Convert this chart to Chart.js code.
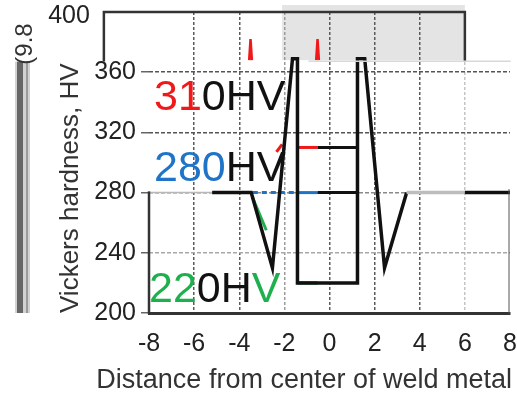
<!DOCTYPE html>
<html>
<head>
<meta charset="utf-8">
<script src="https://cdn.jsdelivr.net/npm/chart.js@4.4.0/dist/chart.umd.min.js"></script>
<style>
  html, body { margin: 0; padding: 0; background: #fff; }
  #wrap { width: 517px; height: 398px; }
</style>
</head>
<body>
<div id="wrap"><canvas id="chart"></canvas></div>
<script>
// tick labels
const xTickValues = [-8, -6, -4, -2, 0, 2, 4, 6, 8];
const yTickValues = [200, 240, 280, 320, 360, 400];

// hardness profile across the weld (black line)
const profileX = [-8, -5.2, -3.47, -2.53, -1.64, -1.42, -1.42, 1.24, 1.24, 1.56, 2.44, 3.42, 6, 8];
const profileY = [280, 280, 280, 230, 369, 369, 220, 220, 369, 369, 230, 280, 280, 280];

// reference levels (coloured part + black part)
const level310X = [-1.42, -0.53, 1.24];
const level310Y = [310, 310, 310];
const level280X = [-3.4, -1.42, -0.53, 1.24];
const level280Y = [280, 280, 280, 280];
const level220X = [-1.42, -0.53];
const level220Y = [220, 220];

// small coloured fragments
const greenSlopeX = [-3.42, -2.8];
const greenSlopeY = [277, 255];
const redSlopeX = [-2.35, -2.1];
const redSlopeY = [307, 312];
const spike1X = [-3.56, -3.5, -3.44];
const spike1Y = [368, 382, 368];
const spike2X = [-0.59, -0.53, -0.47];
const spike2Y = [368, 382, 368];

const pts = (xs, ys) => xs.map((v, i) => ({ x: v, y: ys[i] }));

const RED = '#f01818';
const BLUE = '#1f74c8';
const GREEN = '#1fb04e';
const BLACK = '#111';
const FONT = '"Liberation Sans", Arial, sans-serif';
const TOP = yTickValues[yTickValues.length - 1];

const decor = {
    id: 'decor',
    beforeDraw(chart) {
        const { ctx, scales: { x, y } } = chart;
        ctx.save();
        // shaded strip at the top
        const x0 = x.getPixelForValue(-2.1), x1 = x.getPixelForValue(6);
        const yTop = y.getPixelForValue(400) - 7, yBot = y.getPixelForValue(368);
        ctx.fillStyle = '#e4e4e4';
        ctx.fillRect(x0, yTop, x1 - x0, yBot - yTop);
        // grey bar on the far left
        const barTop = y.getPixelForValue(367), barBot = y.getPixelForValue(200);
        ctx.fillStyle = '#d2d2d2';
        ctx.fillRect(15, barTop, 15, barBot - barTop);
        ctx.fillStyle = '#666';
        ctx.fillRect(17, barTop, 6, barBot - barTop);
        ctx.fillStyle = '#9a9a9a';
        ctx.fillRect(26, barTop, 2, barBot - barTop);
        // rotated "(9.8"
        ctx.translate(32, 44);
        ctx.rotate(-Math.PI / 2);
        ctx.fillStyle = '#333';
        ctx.font = '24px ' + FONT;
        ctx.textAlign = 'center';
        ctx.textBaseline = 'alphabetic';
        ctx.fillText('(9.8', 0, 0);
        ctx.restore();
    },
    afterDatasetsDraw(chart) {
        const { ctx, scales: { x, y } } = chart;
        ctx.save();
        ctx.strokeStyle = '#333';
        ctx.lineCap = 'square';
        // shifted top frame
        const fl = x.getPixelForValue(-10), fr = x.getPixelForValue(6);
        const ft = y.getPixelForValue(400), fb = y.getPixelForValue(368);
        ctx.lineWidth = 2.5;
        ctx.beginPath();
        ctx.moveTo(fl, fb); ctx.lineTo(fl, ft); ctx.lineTo(fr, ft); ctx.lineTo(fr, fb);
        ctx.stroke();
        // light band edge
        ctx.strokeStyle = '#d8d8d8';
        ctx.lineWidth = 1.5;
        ctx.beginPath();
        ctx.moveTo(x.getPixelForValue(-0.9), fb + 1); ctx.lineTo(x.getPixelForValue(8), fb + 1);
        ctx.stroke();
        // left border (lower part) and right border
        ctx.strokeStyle = '#333';
        ctx.lineWidth = 2.5;
        ctx.beginPath();
        ctx.moveTo(x.left, y.getPixelForValue(280)); ctx.lineTo(x.left, y.bottom);
        ctx.stroke();
        ctx.lineWidth = 1;
        ctx.strokeStyle = '#555';
        ctx.beginPath();
        ctx.moveTo(x.right - 1, y.getPixelForValue(282)); ctx.lineTo(x.right - 1, y.bottom);
        ctx.stroke();

        // top tick label sits left of the shifted frame
        ctx.font = '25px ' + FONT;
        ctx.fillStyle = '#222';
        ctx.textAlign = 'right';
        ctx.textBaseline = 'middle';
        ctx.fillText(String(TOP), fl - 14, ft + 4);

        // level labels
        ctx.font = '43px ' + FONT;
        ctx.textBaseline = 'alphabetic';
        ctx.textAlign = 'left';
        const labels = [
            { vx: -7.78, vy: 334.8, parts: [['31', RED], ['0HV', BLACK]] },
            { vx: -7.78, vy: 288.0, parts: [['280', BLUE], ['HV', BLACK]] },
            { vx: -8.0, vy: 207.3, parts: [['22', GREEN], ['0H', BLACK], ['V', GREEN]] }
        ];
        labels.forEach(l => {
            let px = x.getPixelForValue(l.vx);
            const py = y.getPixelForValue(l.vy);
            l.parts.forEach(([t, c]) => {
                ctx.fillStyle = c;
                ctx.fillText(t, px, py);
                px += ctx.measureText(t).width;
            });
        });

        // x axis title (drawn here so it is not squeezed to the plot width)
        ctx.font = '27px ' + FONT;
        ctx.fillStyle = '#333';
        ctx.textAlign = 'right';
        ctx.textBaseline = 'middle';
        ctx.fillText('Distance from center of weld metal', x.right + 2, 381);
        ctx.restore();
    }
};

const line = (data, color, width, extra) => Object.assign({
    data, borderColor: color, borderWidth: width, pointRadius: 0, tension: 0, fill: false
}, extra || {});

new Chart(document.getElementById('chart'), {
    type: 'line',
    data: {
        datasets: [
            line(pts(profileX, profileY), BLACK, 3.5, {
                segment: {
                    borderColor: c => (c.p0DataIndex === 0 ? '#b8b8b8' : c.p0DataIndex === 11 ? '#bdbdbd' : undefined),
                    borderWidth: c => (c.p0DataIndex === 0 ? 1.5 : undefined)
                }
            }),
            line(pts(level310X, level310Y), BLACK, 3, {
                segment: { borderColor: c => (c.p0DataIndex === 0 ? RED : undefined) }
            }),
            line(pts(level280X, level280Y), BLACK, 3, {
                segment: {
                    borderColor: c => (c.p0DataIndex <= 1 ? BLUE : undefined),
                    borderDash: c => (c.p0DataIndex === 0 ? [5, 4] : undefined)
                }
            }),
            line(pts(level220X, level220Y), GREEN, 3.5),
            line(pts(greenSlopeX, greenSlopeY), GREEN, 3),
            line(pts(redSlopeX, redSlopeY), RED, 3),
            line(pts(spike1X, spike1Y), RED, 2.5),
            line(pts(spike2X, spike2Y), RED, 2.5)
        ]
    },
    options: {
        responsive: true,
        maintainAspectRatio: false,
        animation: false,
        layout: { padding: { left: 54, top: 12, right: 7, bottom: 0 } },
        plugins: { legend: { display: false }, tooltip: { enabled: false } },
        scales: {
            x: {
                type: 'linear',
                min: -8,
                max: 8,
                afterBuildTicks: s => { s.ticks = xTickValues.map(v => ({ value: v })); },
                afterFit: s => { s.height = 85; s.paddingLeft = 0; s.paddingRight = 0; },
                grid: {
                    drawTicks: false,
                    lineWidth: 1.5,
                    color: c => {
                        const v = c.tick && c.tick.value;
                        if (v === -8 || v === 8) return 'rgba(0,0,0,0)';
                        if (v === 6) return '#c4c4c4';
                        if (v === -2) return '#9a9a9a';
                        return '#5a5a5a';
                    }
                },
                border: { display: true, color: '#333', width: 3, dash: [3, 2] },
                ticks: {
                    padding: 16,
                    maxRotation: 0,
                    color: '#222',
                    font: { family: FONT, size: 25 }
                },
                title: { display: false }
            },
            y: {
                min: 200,
                max: 400,
                afterBuildTicks: s => { s.ticks = yTickValues.map(v => ({ value: v })); },
                afterFit: s => { s.width = 95; s.paddingTop = 0; s.paddingBottom = 0; },
                grid: {
                    drawTicks: true,
                    tickLength: 8,
                    tickWidth: 1.5,
                    tickColor: c => (c.tick && c.tick.value === TOP ? 'rgba(0,0,0,0)' : '#666'),
                    tickBorderDash: [],
                    lineWidth: 1.5,
                    color: c => {
                        const v = c.tick && c.tick.value;
                        if (v === 200 || v === 400) return 'rgba(0,0,0,0)';
                        if (v === 240) return '#a8a8a8';
                        if (v === 280) return '#8a8a8a';
                        return '#555';
                    }
                },
                border: { display: false, dash: [4, 2] },
                ticks: {
                    padding: 5,
                    color: '#222',
                    font: { family: FONT, size: 25 },
                    callback: v => (v === TOP ? '' : String(v))
                },
                title: {
                    display: true,
                    text: 'Vickers hardness, HV',
                    align: 'start',
                    color: '#333',
                    padding: { top: 1, bottom: 0 },
                    font: { family: FONT, size: 26 }
                }
            }
        }
    },
    plugins: [decor]
});
</script>
</body>
</html>
